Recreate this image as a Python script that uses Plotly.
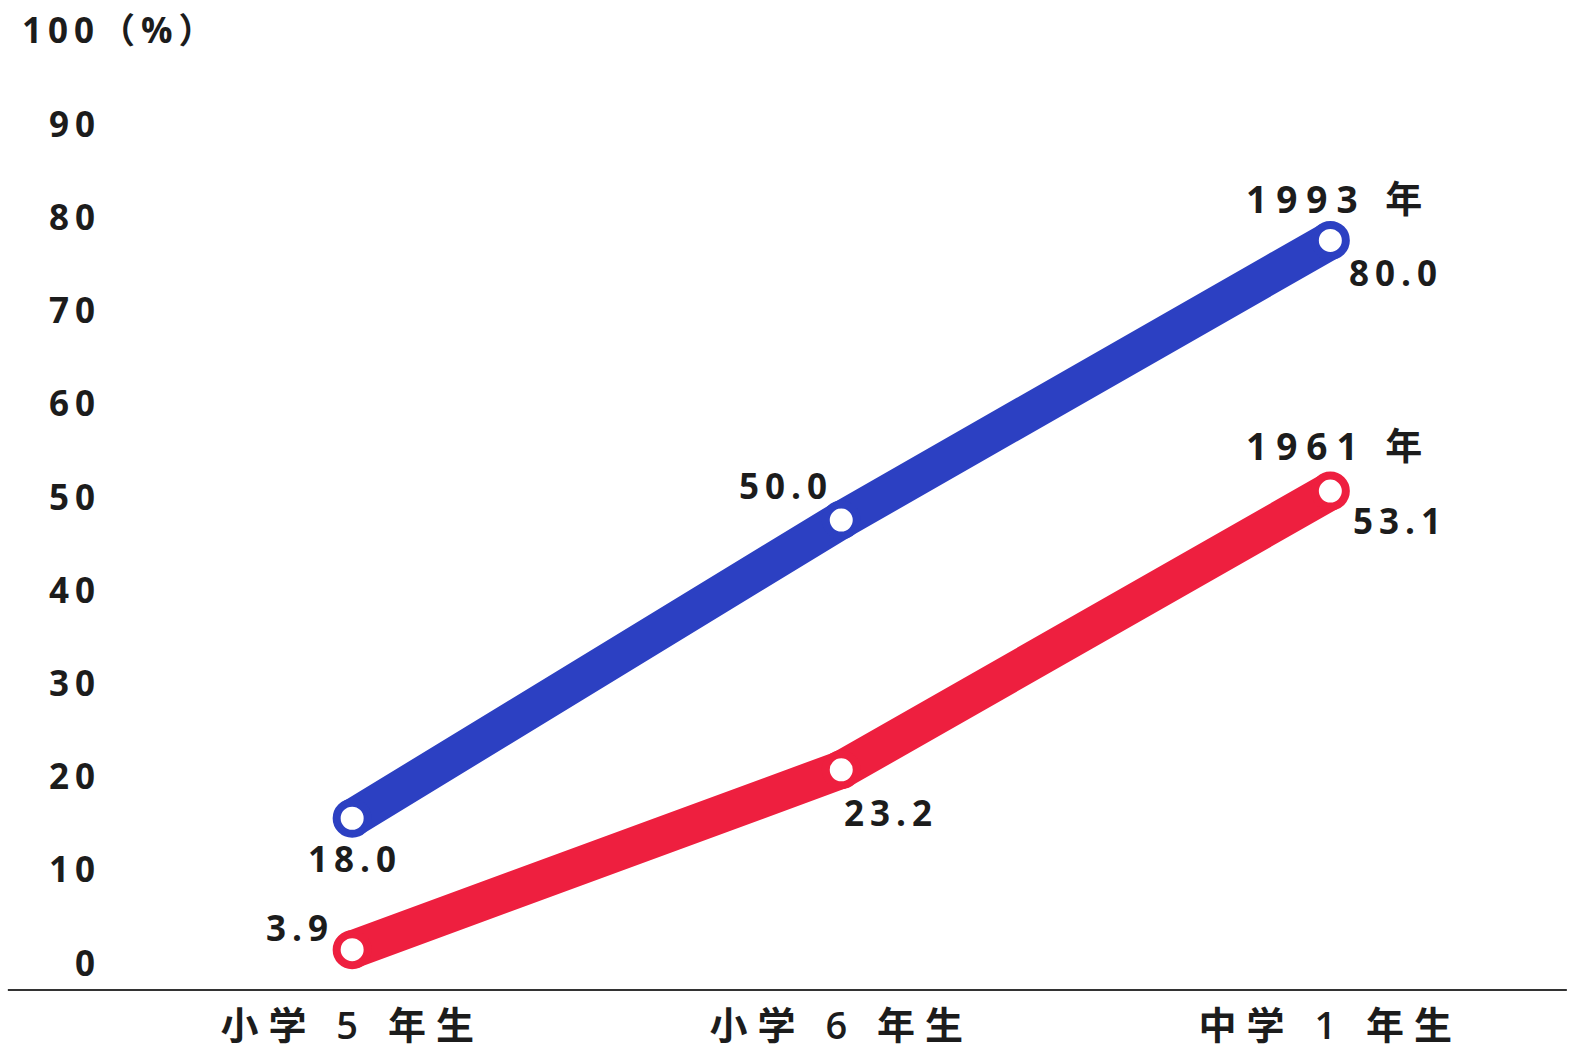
import plotly.graph_objects as go

# Grades surveyed and the share (%) for each survey year
grades = ["小学 5 年生", "小学 6 年生", "中学 1 年生"]
values_1993 = [18.0, 50.0, 80.0]
values_1961 = [3.9, 23.2, 53.1]
y_ticks = [0, 10, 20, 30, 40, 50, 60, 70, 80, 90]
y_unit_label = "100（%）"

BLUE = "#2c40c2"
RED = "#ee1f3f"
INK = "#1c1c1c"
FONT = "Open Sans, Noto Sans CJK JP, sans-serif"

x_pos = list(range(len(grades)))


def spaced(text, px):
    return f'<span style="letter-spacing:{px}px">{text}</span>'


fig = go.Figure()

for vals, color in ((values_1961, RED), (values_1993, BLUE)):
    fig.add_trace(go.Scatter(
        x=x_pos, y=vals, mode="lines",
        line=dict(color=color, width=38),
        hoverinfo="skip", showlegend=False,
    ))
    fig.add_trace(go.Scatter(
        x=x_pos, y=vals, mode="markers",
        marker=dict(size=31, color="white", line=dict(color=color, width=8)),
        hoverinfo="skip", showlegend=False,
    ))

annotations = []
num_font = dict(family=FONT, size=35, color=INK, weight=700)

# y-axis numbers sit a little above their gridline position
for v in y_ticks:
    annotations.append(dict(
        x=103 / 1570, xref="paper", y=v, yref="y", xanchor="right", yanchor="middle",
        text=spaced(str(v), 6), showarrow=False, yshift=24, font=num_font,
    ))
annotations.append(dict(
    x=20 / 1570, xref="paper", y=100, yref="y", xanchor="left", yanchor="middle",
    text=spaced(y_unit_label, 6), showarrow=False, yshift=24, font=num_font,
))

# value labels: (series values, index, x offset, y offset)
value_labels = [
    (values_1993, 0, 3, -40),
    (values_1993, 1, -55, 35),
    (values_1993, 2, 66, -32),
    (values_1961, 0, -52, 22),
    (values_1961, 1, 50, -43),
    (values_1961, 2, 70, -29),
]
for vals, i, dx, dy in value_labels:
    annotations.append(dict(
        x=x_pos[i], y=vals[i], xref="x", yref="y",
        text=spaced(f"{vals[i]:.1f}", 6), showarrow=False,
        xshift=dx, yshift=dy, xanchor="center", yanchor="middle", font=num_font,
    ))

# series names above the last point
for name, vals, dy in (("1993 年", values_1993, 42), ("1961 年", values_1961, 46)):
    annotations.append(dict(
        x=x_pos[-1], y=vals[-1], xref="x", yref="y",
        text=spaced(name, 9), showarrow=False, xshift=8, yshift=dy,
        xanchor="center", yanchor="middle",
        font=dict(family=FONT, size=37, color=INK, weight=700),
    ))

fig.update_layout(
    width=1570, height=1049,
    margin=dict(l=0, r=0, t=10, b=49),
    paper_bgcolor="white", plot_bgcolor="white",
    annotations=annotations,
    shapes=[dict(type="line", xref="paper", yref="y", x0=0.005, x1=0.998,
                 y0=-0.43, y1=-0.43, line=dict(color="#333333", width=2))],
    xaxis=dict(
        range=[-0.72, 2.49], tickmode="array", tickvals=x_pos,
        ticktext=[spaced(g, 10) for g in grades],
        showgrid=False, zeroline=False, showline=False, ticks="",
        tickfont=dict(family=FONT, size=38, color=INK, weight=600),
        ticklabelstandoff=0,
        automargin=False, fixedrange=True,
    ),
    yaxis=dict(
        range=[-1.5, 104.72], showgrid=False, zeroline=False, showline=False,
        showticklabels=False, ticks="", automargin=False, fixedrange=True,
    ),
)

fig.write_html("out.html")
